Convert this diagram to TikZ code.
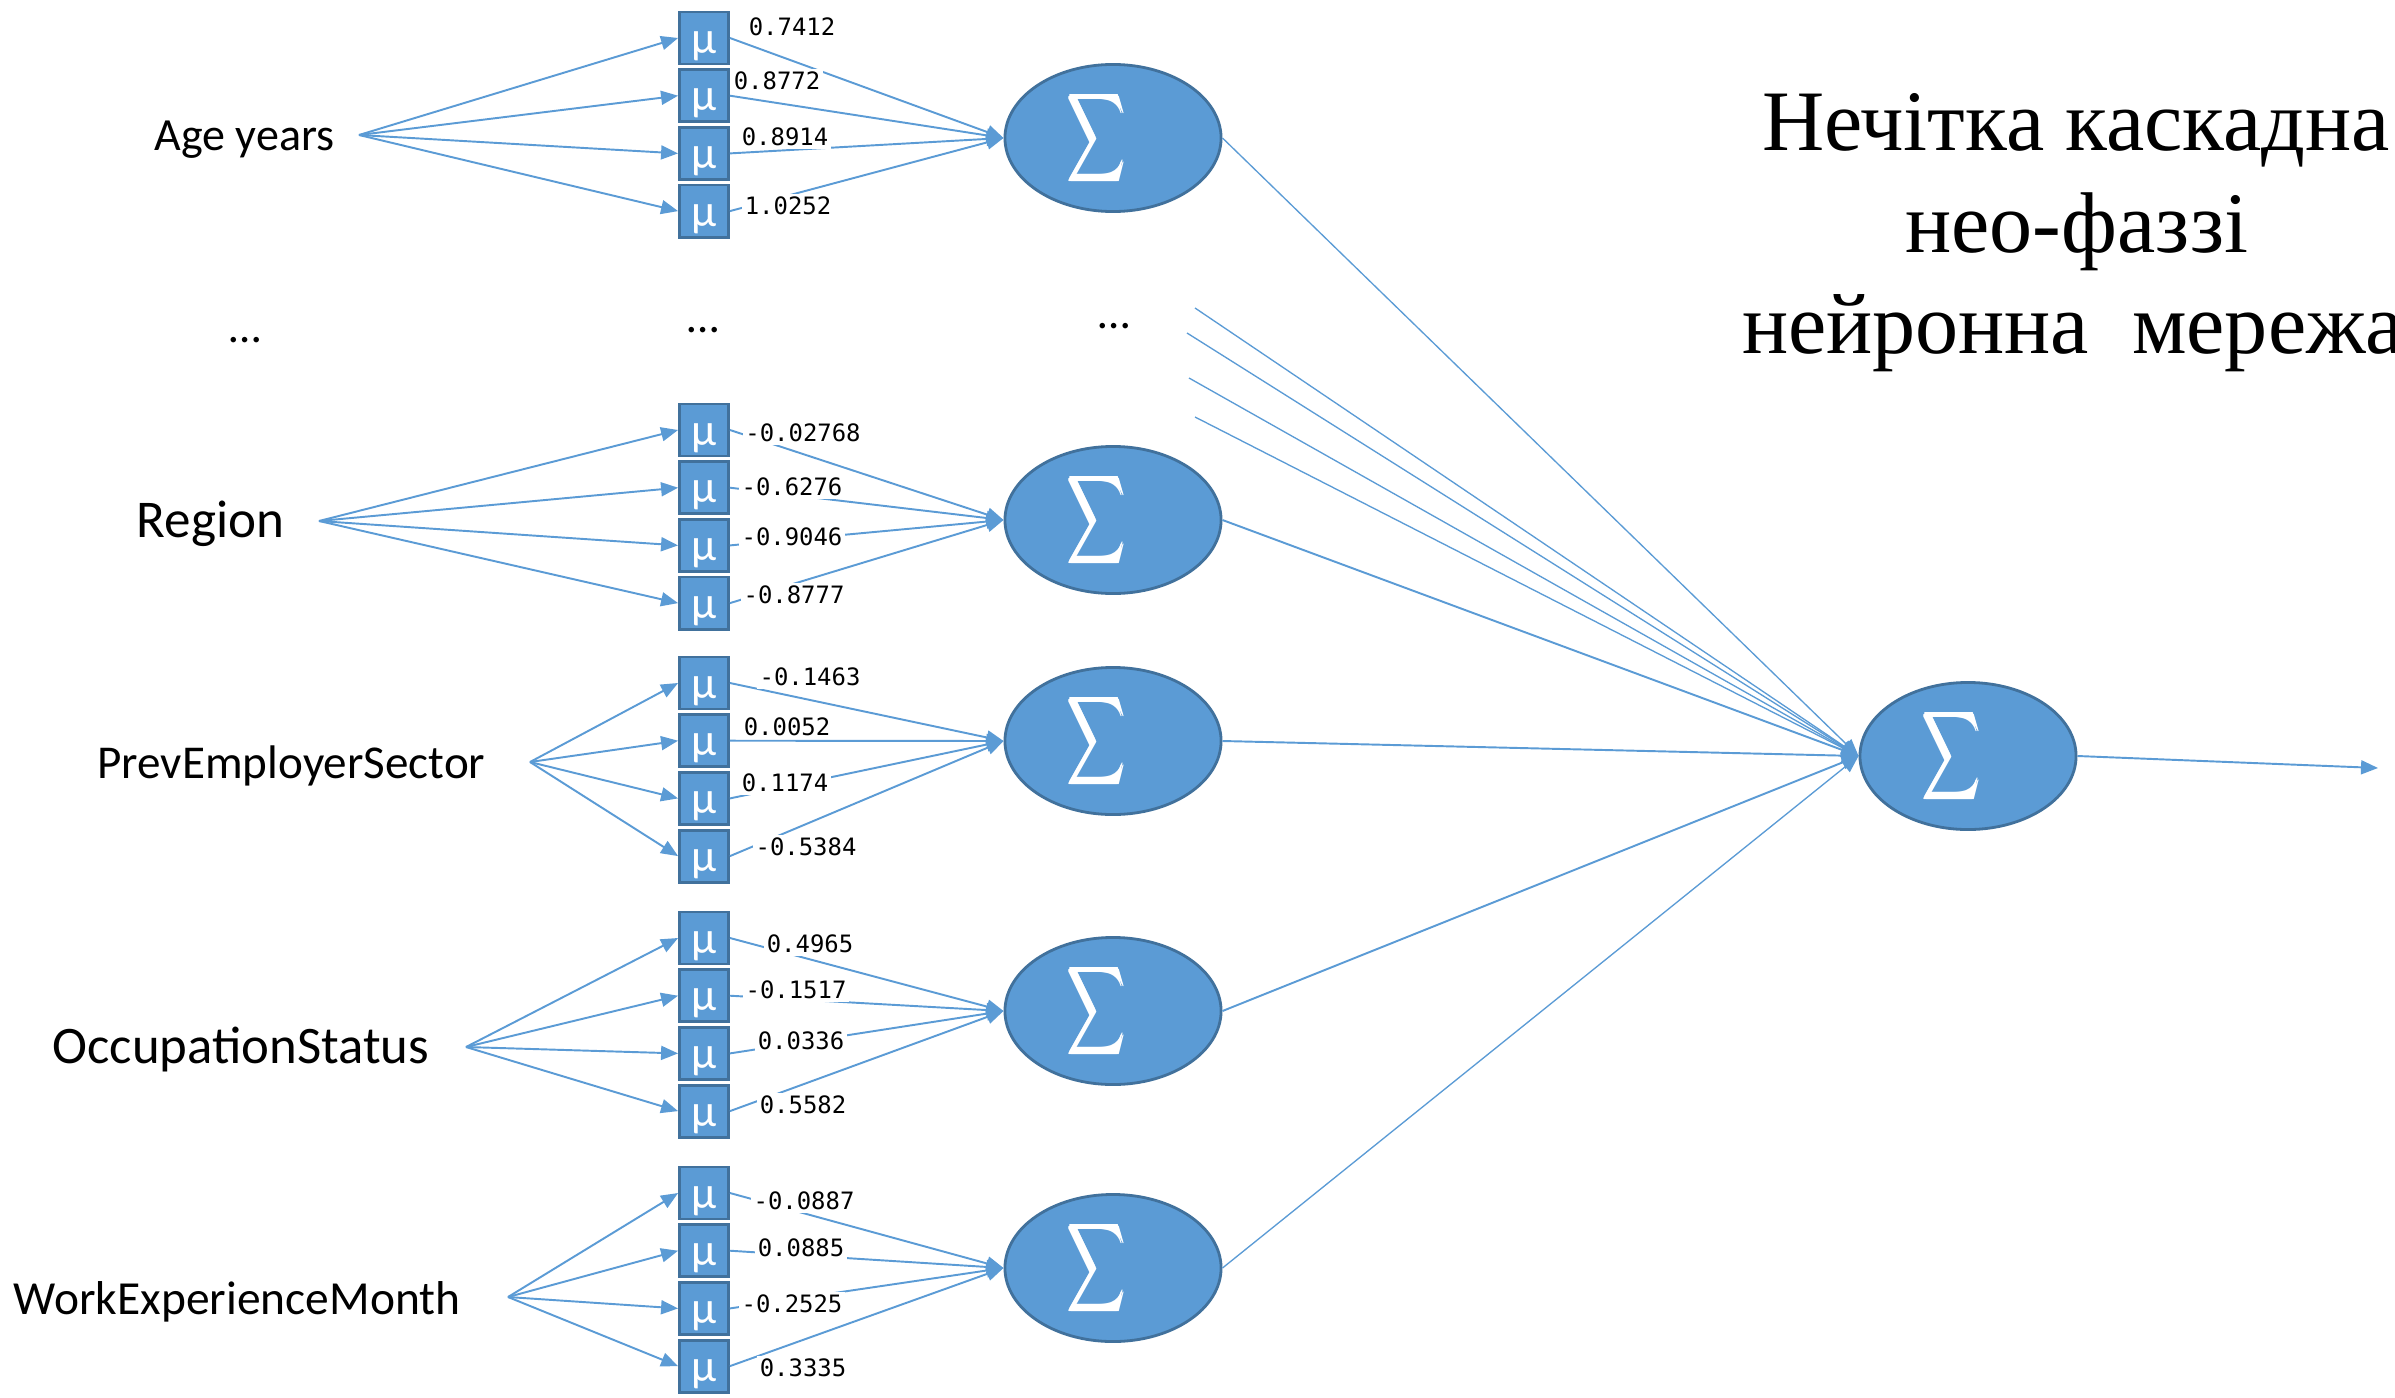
\documentclass[tikz,border=0pt]{standalone}
\usepackage{amsmath}
\usepackage{graphicx}
\usepackage{fontspec}
\newfontfamily\carl{Carlito}
\newfontfamily\monofnt{DejaVu Sans Mono}
\newfontfamily\titlefnt{Liberation Serif}
\usepackage{tikz}
\usetikzlibrary{arrows.meta,shapes.geometric}
\definecolor{nnblue}{HTML}{5B9BD5}
\definecolor{nnedge}{HTML}{41719C}
\newcommand\sumsign{\scalebox{0.66}[1]{\fontsize{19}{19}\selectfont\pmb{$\displaystyle\sum$}}\kern0.32cm}
\tikzset{
  mu/.style={draw=nnedge, fill=nnblue, line width=0.8pt, minimum width=0.49cm, minimum height=0.52cm,
    inner sep=0pt, text=white, text height=0.3cm, text depth=0pt, font=\carl\fontsize{13}{13}\selectfont},
  sm/.style={ellipse, draw=nnedge, fill=nnblue, line width=0.8pt, minimum width=2.16cm, minimum height=1.47cm,
    inner sep=0pt, text=white},
  inp/.style={anchor=mid east, inner sep=0pt, font=\carl\fontsize{#1}{#1}\selectfont},
  dots/.style={anchor=base, inner sep=0pt, font=\carl\fontsize{13}{13}\selectfont},
  wt/.style={fill=white, inner sep=0.8pt, font=\monofnt\fontsize{6.8}{8}\selectfont},
  ttl/.style={anchor=base, inner sep=0pt, font=\titlefnt\fontsize{24.5}{29}\selectfont},
  fl/.style={draw=nnblue, line width=0.55pt, -{Triangle[length=1.7mm, width=1.4mm]}},
  thn/.style={line width=0.38pt},
}
\begin{document}
\begin{tikzpicture}[x=0.01cm, y=-0.01cm]
\useasboundingbox (0,0) rectangle (2395,1397);
% title
\node[ttl] (t1) at (2076,150) {Нечітка каскадна};
\node[ttl] (t2) at (2077,252) {нео-фаззі};
\node[ttl] (t3) at (2073,353) {нейронна\ \ мережа};
% inputs
\node[inp=13.1] (l1) at (335,143) {Age years};
\node[inp=15.1] (l2) at (285,530) {Region};
\node[inp=13.4] (l3) at (486,771) {PrevEmployerSector};
\node[inp=15.0] (l4) at (430,1056) {OccupationStatus};
\node[inp=13.5] (l5) at (461,1307) {WorkExperienceMonth};
\node[dots] (d1) at (245,342) {\ldots};
\node[dots] (d2) at (703,332) {\ldots};
\node[dots] (d3) at (1114,328) {\ldots};
% fuzzy blocks
\foreach \g/\ty/\sy/\ix/\iy in {1/38/138/359/135, 2/430/520/319/521, 3/683/741/530/762,
    4/938/1011/466/1047, 5/1193/1268/508/1297}{
  \coordinate (x\g) at (\ix,\iy);
  \node[sm] (s\g) at (1113,\sy) {\sumsign};
  \foreach \k in {1,...,4}{
    \node[mu] (m\g\k) at (704,{\ty+57.7*(\k-1)}) {μ};
    \draw[fl] (x\g) -- (m\g\k.west);
    \draw[fl] (m\g\k.east) -- (s\g.west);
  }
}
% output neuron
\node[sm] (so) at (1968,756) {\sumsign};
\coordinate (out) at (2378,768);
\coordinate (c1) at (1195,308);
\coordinate (c2) at (1187,333);
\coordinate (c3) at (1189,378);
\coordinate (c4) at (1195,417);
\foreach \i in {1,...,4} \draw[fl, thn] (c\i) -- (so.west);
\draw[fl, thn] (s1.east) -- (so.west);
\draw[fl] (s2.east) -- (so.west);
\draw[fl] (s3.east) -- (so.west);
\draw[fl] (s4.east) -- (so.west);
\draw[fl, thn] (s5.east) -- (so.west);
\draw[fl] (so.east) -- (out);
% weights
\foreach \p/\t [count=\i] in {(792,27)/0.7412, (777,81)/0.8772, (785,137)/0.8914, (788,206)/1.0252,
    (803,433)/-0.02768, (792,487)/-0.6276, (792,537)/-0.9046, (794,595)/-0.8777,
    (810,677)/-0.1463, (787,727)/0.0052, (785,783)/0.1174, (806,847)/-0.5384,
    (810,944)/0.4965, (796,990)/-0.1517, (801,1041)/0.0336, (803,1105)/0.5582,
    (804,1201)/-0.0887, (801,1248)/0.0885, (792,1304)/-0.2525, (803,1368)/0.3335}
  \node[wt] (w\i) at \p {\t};
\end{tikzpicture}
\end{document}
